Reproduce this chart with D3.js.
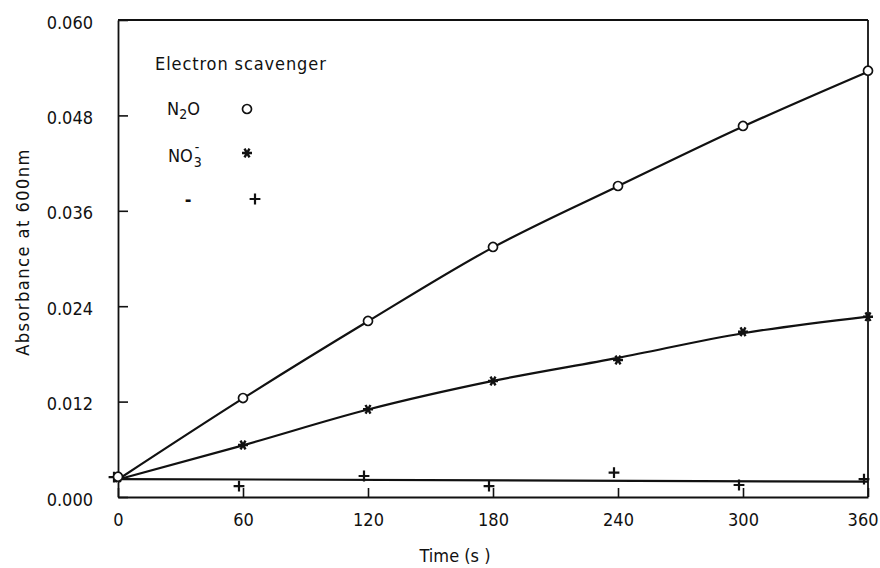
<!DOCTYPE html>
<html>
<head>
<meta charset="utf-8">
<script src="https://cdn.jsdelivr.net/npm/d3@7"></script>
<style>
body { margin: 0; background: #fff; }
text { font-family: "DejaVu Sans Condensed", "DejaVu Sans", sans-serif; font-stretch: condensed; fill: #111; }
</style>
</head>
<body>
<svg id="chart" width="880" height="568"></svg>
<script>
// time points (s)
const times = [0, 60, 120, 180, 240, 300, 360];

// measured absorbance at 600 nm
const n2oPts = [0.00255, 0.01245, 0.02214, 0.03145, 0.03912, 0.04667, 0.05362];
const no3Pts = [0.0024, 0.00654, 0.01103, 0.01459, 0.01723, 0.02079, 0.02268];
const blankPts = [0.0025, 0.00138, 0.00264, 0.00138, 0.00306, 0.00151, 0.00226];

// fitted curves
const n2oFit = [0.0022, 0.0124, 0.0221, 0.0314, 0.0391, 0.0466, 0.0535];
const no3Fit = [0.0022, 0.0065, 0.0110, 0.0146, 0.0175, 0.0206, 0.0227];
const blankFitT = [0, 360];
const blankFit = [0.00226, 0.00193];

const yTicks = [0, 0.012, 0.024, 0.036, 0.048, 0.060];

const svg = d3.select("#chart");

const x = d3.scaleLinear().domain([0, 360]).range([118, 868]);
const y = d3.scaleLinear().domain([0, 0.06]).range([497, 20]);

const ink = "#111";

// axes
let yAxis = svg.append("g")
    .attr("transform", `translate(${x(0)},0)`)
    .call(d3.axisLeft(y).tickValues(yTicks).tickFormat(d3.format(".3f"))
        .tickSize(-10).tickSizeOuter(0).tickPadding(25))

yAxis.selectAll("text")
    .attr("font-size", 18)
    .attr("dy", "0.45em")

let xAxis = svg.append("g")
    .attr("transform", `translate(0,${y(0)})`)
    .call(d3.axisBottom(x).tickValues(times).tickFormat(d3.format("d"))
        .tickSize(-9).tickSizeOuter(0).tickPadding(16))

xAxis.selectAll("text")
    .attr("font-size", 18)

// last label sits against the edge, as in the original
xAxis.selectAll("text")
    .filter(d => d === 360)
    .attr("text-anchor", "end")
    .attr("dx", 10)

svg.selectAll(".domain").attr("stroke", ink).attr("stroke-width", 1.8)
svg.selectAll(".tick line").attr("stroke", ink).attr("stroke-width", 1.6)
svg.selectAll("g").attr("font-family", null).attr("font-size", null)

// frame: top and right
svg.append("line")
    .attr("x1", x(0)).attr("x2", x(360))
    .attr("y1", y(0.06)).attr("y2", y(0.06))
    .attr("stroke", ink).attr("stroke-width", 1.8)

svg.append("line")
    .attr("x1", x(360)).attr("x2", x(360))
    .attr("y1", y(0.06)).attr("y2", y(0))
    .attr("stroke", ink).attr("stroke-width", 1.8)

// axis titles
svg.append("text")
    .attr("x", 455).attr("y", 562)
    .attr("text-anchor", "middle")
    .attr("font-size", 18)
    .text("Time (s )")

svg.append("text")
    .attr("transform", "translate(29,252) rotate(-90)")
    .attr("text-anchor", "middle")
    .attr("font-size", 18)
    .attr("letter-spacing", 1.5)
    .text("Absorbance at 600nm")

// fitted curves
const line = d3.line()
    .x(d => x(d[0]))
    .y(d => y(d[1]))
    .curve(d3.curveMonotoneX)

const curves = [
    d3.zip(times, n2oFit),
    d3.zip(times, no3Fit),
    d3.zip(blankFitT, blankFit)
]

svg.selectAll(".fit")
    .data(curves)
    .enter()
    .append("path")
    .attr("class", "fit")
    .attr("d", line)
    .attr("fill", "none")
    .attr("stroke", ink)
    .attr("stroke-width", 2.2)

// markers
const circleSym = d3.symbol(d3.symbolCircle, 64)
const starSym = d3.symbol(d3.symbolAsterisk, 70)
const plusSym = d3.symbol(d3.symbolPlus, 40)

svg.selectAll(".blank")
    .data(d3.zip(times, blankPts))
    .enter()
    .append("path")
    .attr("class", "blank")
    .attr("d", plusSym)
    .attr("transform", d => `translate(${x(d[0]) - 4},${y(d[1])})`)
    .attr("fill", "none")
    .attr("stroke", ink)
    .attr("stroke-width", 2.2)

svg.selectAll(".no3")
    .data(d3.zip(times, no3Pts))
    .enter()
    .append("path")
    .attr("class", "no3")
    .attr("d", starSym)
    .attr("transform", d => `translate(${x(d[0])},${y(d[1])}) rotate(90)`)
    .attr("fill", "none")
    .attr("stroke", ink)
    .attr("stroke-width", 2.4)

svg.selectAll(".n2o")
    .data(d3.zip(times, n2oPts))
    .enter()
    .append("path")
    .attr("class", "n2o")
    .attr("d", circleSym)
    .attr("transform", d => `translate(${x(d[0])},${y(d[1])})`)
    .attr("fill", "#fff")
    .attr("stroke", ink)
    .attr("stroke-width", 1.7)

// legend
svg.append("text")
    .attr("x", 155).attr("y", 70)
    .attr("font-size", 18)
    .attr("letter-spacing", 0.9)
    .text("Electron scavenger")

let n2oLab = svg.append("text").attr("x", 167).attr("y", 115).attr("font-size", 18)
n2oLab.append("tspan").text("N")
n2oLab.append("tspan").attr("dy", 4).attr("font-size", 14).text("2")
n2oLab.append("tspan").attr("dy", -4).text("O")

let no3Lab = svg.append("text").attr("x", 168).attr("y", 162).attr("font-size", 18)
no3Lab.append("tspan").text("NO")
let noW = no3Lab.node().getComputedTextLength()
svg.append("text").attr("x", 168 + noW + 1).attr("y", 167).attr("font-size", 14).text("3")
svg.append("text").attr("x", 168 + noW + 2).attr("y", 152).attr("font-size", 14).text("-")

svg.append("text")
    .attr("x", 188).attr("y", 206)
    .attr("text-anchor", "middle")
    .attr("font-size", 18)
    .attr("font-weight", "bold")
    .text("-")

const legendMarks = [
    {sym: circleSym, y: 109, fill: "#fff", w: 1.7, rot: 0, dx: 0},
    {sym: starSym, y: 153, fill: "none", w: 2.4, rot: 90, dx: 0},
    {sym: plusSym, y: 199, fill: "none", w: 2.2, rot: 0, dx: 8}
]

svg.selectAll(".legMark")
    .data(legendMarks)
    .enter()
    .append("path")
    .attr("class", "legMark")
    .attr("d", d => d.sym())
    .attr("transform", d => `translate(${247 + d.dx},${d.y}) rotate(${d.rot})`)
    .attr("fill", d => d.fill)
    .attr("stroke", ink)
    .attr("stroke-width", d => d.w)
</script>
</body>
</html>
